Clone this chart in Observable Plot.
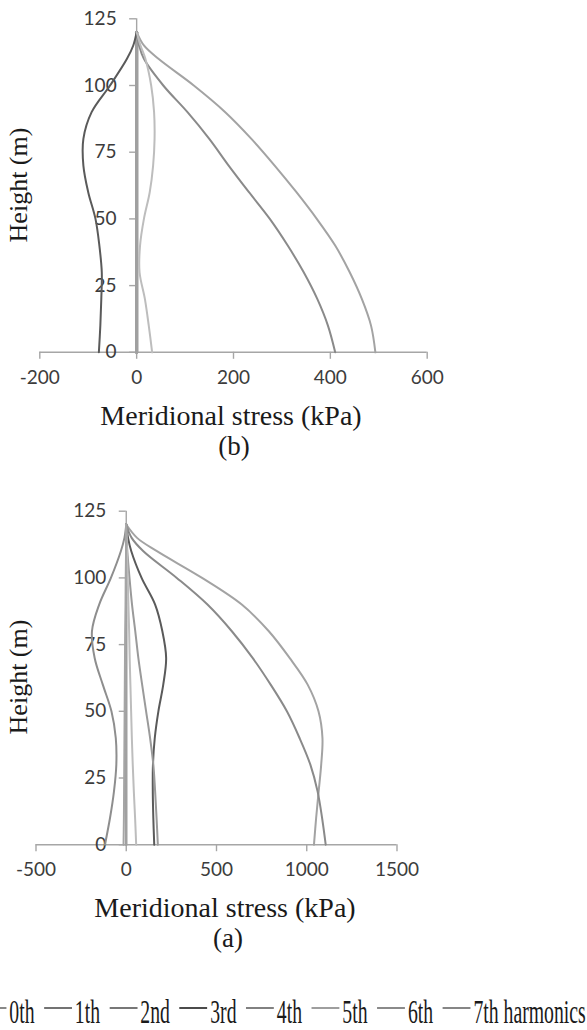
<!DOCTYPE html>
<html><head><meta charset="utf-8">
<script src="https://cdn.jsdelivr.net/npm/d3@7"></script>
<script src="https://cdn.jsdelivr.net/npm/@observablehq/plot@0.6"></script>
<style>
html,body{margin:0;padding:0;background:#fff;}
#root{position:relative;width:587px;height:1030px;overflow:hidden;background:#fff;}
.chart{position:absolute;left:0;}
.title{position:absolute;font-family:"Liberation Serif","Times New Roman",serif;font-size:27px;line-height:24px;color:#1a1a1a;white-space:nowrap;transform:translate(-50%,-50%);}
.title.big{font-size:28px;}
.title.rot{font-size:26px;transform:translate(-50%,-50%) rotate(-90deg);}
#legend{position:absolute;right:1px;top:990px;height:40px;display:flex;align-items:flex-start;white-space:nowrap;transform:scaleX(0.58);transform-origin:100% 0;}
.lg-item{display:flex;align-items:flex-start;margin-left:16.5px;}
.lg-line{width:48px;height:0;border-top:2px solid #888;margin-top:17px;margin-right:5px;}
.lg-text{font-family:"Liberation Serif","Times New Roman",serif;font-size:34px;line-height:30px;margin-top:6.5px;color:#1a1a1a;}
</style></head><body><div id="root"></div>
<script>
// ---------- data ----------
const heights = [0, 10, 20, 30, 40, 50, 60, 70, 80, 90, 100, 110, 115, 120];
const harmonics = ["0th", "1th", "2nd", "3rd", "4th", "5th", "6th", "7th"];
const legendSuffix = " harmonics";
const harmonicColors = ["#a3a3a3", "#8a8a8a", "#8e8e8e", "#5a5a5a", "#9a9a9a", "#bdbdbd", "#a5a5a5", "#a0a0a0"];

// chart (b)
const b0th = [493, 484, 465, 440, 410, 372, 330, 285, 237, 183, 118, 45, 15, 0];
const b1th = [410, 395, 373, 345, 312, 275, 232, 190, 150, 105, 55, 15, 5, 0];
const b2nd = [0, 0, 0, 0, 0, 0, 0, 0, 0, 0, 0, 0, 0, 0];
const b3rd = [-78, -75, -73, -72, -77, -85, -100, -110, -110, -93, -55, -20, -7, 0];
const b4th = [0, 0, 0, 0, 0, 0, 0, 0, 0, 0, 0, 0, 0, 0];
const b5th = [32, 25, 17, 6, 7, 15, 27, 34, 37, 36, 30, 18, 8, 0];
const b6th = [0, 0, 0, 0, 0, 0, 0, 0, 0, 0, 0, 0, 0, 0];
const b7th = [0, 0, 0, 0, 0, 0, 0, 0, 0, 0, 0, 0, 0, 0];

// chart (a)
const a0th = [1040, 1052, 1066, 1080, 1087, 1065, 1005, 905, 790, 640, 420, 170, 60, 0];
const a1th = [1105, 1085, 1060, 1020, 960, 890, 800, 700, 585, 450, 280, 95, 30, 0];
const a2nd = [-118, -90, -68, -55, -58, -82, -130, -175, -190, -150, -85, -30, -10, 0];
const a3rd = [155, 150, 147, 148, 158, 178, 205, 221, 200, 160, 85, 28, 10, 0];
const a4th = [175, 168, 160, 150, 132, 110, 88, 67, 50, 32, 18, 6, 2, 0];
const a5th = [55, 49, 42, 36, 31, 27, 23, 19, 16, 12, 8, 4, 2, 0];
const a6th = [-15, -13, -12, -11, -10, -9, -8, -7, -6, -4, -3, -1, 0, 0];
const a7th = [0, 0, 0, 0, 0, 0, 0, 0, 0, 0, 0, 0, 0, 0];

const yTicks = [0, 25, 50, 75, 100, 125];
const xTicksB = [-200, 0, 200, 400, 600];
const xTicksA = [-500, 0, 500, 1000, 1500];
const xTitle = "Meridional stress (kPa)";
const yTitle = "Height (m)";
const panelB = "(b)";
const panelA = "(a)";

// ---------- drawing ----------
const axisGrey = "#a6a6a6";
const tickInk = "#3c3c3c";

function tidy(list) {
  const rows = [];
  list.forEach((vals, k) => vals.forEach((v, i) => rows.push({harmonic: harmonics[k], h: heights[i], s: v})));
  return rows;
}

function chart({series, xDomain, xTicks, W, H, left, right, top, bottom, thickZero}) {
  const rows = tidy(series);
  const isZero = (name) => series[harmonics.indexOf(name)].every(v => v === 0);
  const zeroRows = rows.filter(r => isZero(r.harmonic));
  const curveRows = rows.filter(r => !isZero(r.harmonic));
  return Plot.plot({
    width: W, height: H,
    marginLeft: left, marginRight: W - right, marginTop: top, marginBottom: H - bottom,
    x: {domain: xDomain},
    y: {domain: [0, 125], axis: null},
    color: {domain: harmonics, range: harmonicColors},
    style: {background: "transparent", fontFamily: "Lato, sans-serif", fontSize: "19px", color: tickInk, overflow: "visible"},
    marks: [
      Plot.ruleY([0], {stroke: axisGrey, strokeWidth: 1.4}),
      Plot.axisX(xTicks, {tickSize: 7, tickPadding: 11, stroke: axisGrey, strokeWidth: 1.4, fill: tickInk, fontSize: 19, tickFormat: d => String(d), label: null}),
      Plot.ruleX([0], {y1: () => 0, y2: () => 125, stroke: axisGrey, strokeWidth: 1.4}),
      Plot.ruleY(yTicks, {y: d => d, x1: () => 0, x2: () => 0, insetLeft: -7, stroke: axisGrey, strokeWidth: 1.4}),
      Plot.text(yTicks, {x: () => 0, y: d => d, text: d => String(d), dx: -20, textAnchor: "end", fill: tickInk, fontSize: 19}),
      Plot.line(zeroRows, {x: "s", y: "h", z: "harmonic", stroke: "harmonic", strokeWidth: thickZero}),
      Plot.line(curveRows, {x: "s", y: "h", z: "harmonic", stroke: "harmonic", strokeWidth: 2, curve: "catmull-rom"})
    ]
  });
}

const root = document.getElementById("root");

function addTitle(text, x, y, cls) {
  const d = document.createElement("div");
  d.className = "title" + (cls ? " " + cls : "");
  d.textContent = text;
  d.style.left = x + "px";
  d.style.top = y + "px";
  root.appendChild(d);
}

const svgB = chart({
  series: [b0th, b1th, b2nd, b3rd, b4th, b5th, b6th, b7th],
  xDomain: [-200, 600], xTicks: xTicksB,
  W: 587, H: 470, left: 39.3, right: 426.7, top: 18.3, bottom: 351.8, thickZero: 3
});
svgB.classList.add("chart");
svgB.style.top = "0px";
root.appendChild(svgB);

const svgA = chart({
  series: [a0th, a1th, a2nd, a3rd, a4th, a5th, a6th, a7th],
  xDomain: [-500, 1500], xTicks: xTicksA,
  W: 587, H: 490, left: 35.5, right: 396.5, top: 40.7, bottom: 374.2, thickZero: 2.5
});
svgA.classList.add("chart");
svgA.style.top = "470px";
root.appendChild(svgA);

addTitle(yTitle, 19, 185, "rot");
addTitle(xTitle, 231, 416, "big");
addTitle(panelB, 234, 446, "");
addTitle(yTitle, 19, 677, "rot");
addTitle(xTitle, 225, 908, "big");
addTitle(panelA, 228, 938, "");

// legend
const legend = document.createElement("div");
legend.id = "legend";
harmonics.forEach((name, i) => {
  const item = document.createElement("div");
  item.className = "lg-item";
  if (i === 0) item.style.marginLeft = "0px";
  const line = document.createElement("div");
  line.className = "lg-line";
  line.style.borderTopColor = d3.color(harmonicColors[i]).darker(0.5).formatHex();
  const text = document.createElement("div");
  text.className = "lg-text";
  text.textContent = name + (i === harmonics.length - 1 ? legendSuffix : "");
  item.appendChild(line);
  item.appendChild(text);
  legend.appendChild(item);
});
root.appendChild(legend);
</script>
</body></html>
